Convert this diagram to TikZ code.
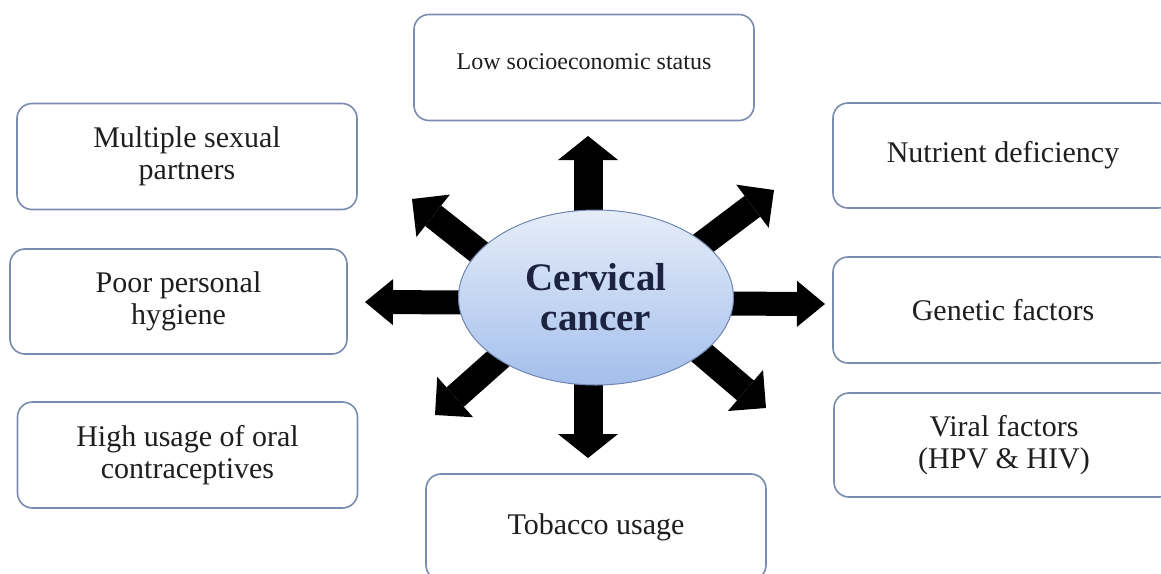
\documentclass[tikz,border=0pt]{standalone}
\usepackage{fontspec}
\setmainfont{Liberation Serif}
\usetikzlibrary{shapes.geometric,arrows.meta,backgrounds}
\definecolor{boxline}{HTML}{7A8BAE}
\definecolor{elltop}{HTML}{E6EDF9}
\definecolor{ellbot}{HTML}{A4BFEC}
\definecolor{ellline}{HTML}{6F86B2}
\definecolor{txt}{HTML}{1E1E1E}
\definecolor{ctxt}{HTML}{1B2340}
\begin{document}
\begin{tikzpicture}[x=1pt,y=-1pt,
  factor/.style={draw=boxline, line width=1.6pt, rounded corners=15pt, fill=white,
    minimum width=340pt, minimum height=106pt, align=center, inner sep=0pt,
    text=txt, font=\fontsize{30}{32}\selectfont},
  arrv/.style={line width=29pt, -{Triangle[width=60pt,length=24pt,line width=0pt]}},
  arrh/.style={line width=24pt, -{Triangle[width=46pt,length=28pt,line width=0pt]}},
  arrd/.style={line width=26pt, -{Triangle[width=54pt,length=27pt,line width=0pt]}},
  centre/.style={ellipse, draw=ellline, line width=1pt, top color=elltop, bottom color=ellbot,
    minimum width=275pt, minimum height=175pt, inner sep=0pt, align=center,
    text=ctxt, font=\bfseries\fontsize{39}{40}\selectfont}
]
\useasboundingbox (0,0) rectangle (1161,573);
\clip (0,0) rectangle (1161,573);

% factor boxes
\node[factor, font=\fontsize{24}{28}\selectfont] (low) at (584,67.5) {\raisebox{12pt}{Low socioeconomic status}};
\node[factor] (mult) at (187,156.5) {Multiple sexual\\partners};
\node[factor, minimum width=337pt, minimum height=105pt] (poor) at (178.5,301.5) {Poor personal\\hygiene};
\node[factor] (high) at (187.5,455) {High usage of oral\\contraceptives};
\node[factor] (tob) at (596,527) {Tobacco usage};
\node[factor, minimum height=105pt] (nut) at (1003,155.5) {Nutrient deficiency};
\node[factor] (gen) at (1003,310) {Genetic factors};
\node[factor, minimum height=104pt] (vir) at (1004,445) {Viral factors\\(HPV \& HIV)};

% centre
\node[centre] (cc) at (596,297.5) {Cervical\\cancer};

% arrow ends
\coordinate (tv) at (588,297);
\coordinate (th) at (596,303);
\coordinate (upT) at (588,136);
\coordinate (dnT) at (588,458);
\coordinate (lfT) at (365,302);
\coordinate (rtT) at (825,304);
\coordinate (ulS) at (575,328);
\coordinate (ulT) at (412,199);
\coordinate (urS) at (612,312);
\coordinate (urT) at (774,190);
\coordinate (llS) at (578,288);
\coordinate (llT) at (435,415);
\coordinate (lrS) at (622,285);
\coordinate (lrT) at (766,408);

\begin{scope}[on background layer]
\draw[arrv] (tv) -- (upT);
\draw[arrv] (tv) -- (dnT);
\draw[arrh] (th) -- (lfT);
\draw[arrh] (th) -- (rtT);
\draw[arrd] (ulS) -- (ulT);
\draw[arrd] (urS) -- (urT);
\draw[arrd] (llS) -- (llT);
\draw[arrd] (lrS) -- (lrT);
\end{scope}
\end{tikzpicture}
\end{document}
